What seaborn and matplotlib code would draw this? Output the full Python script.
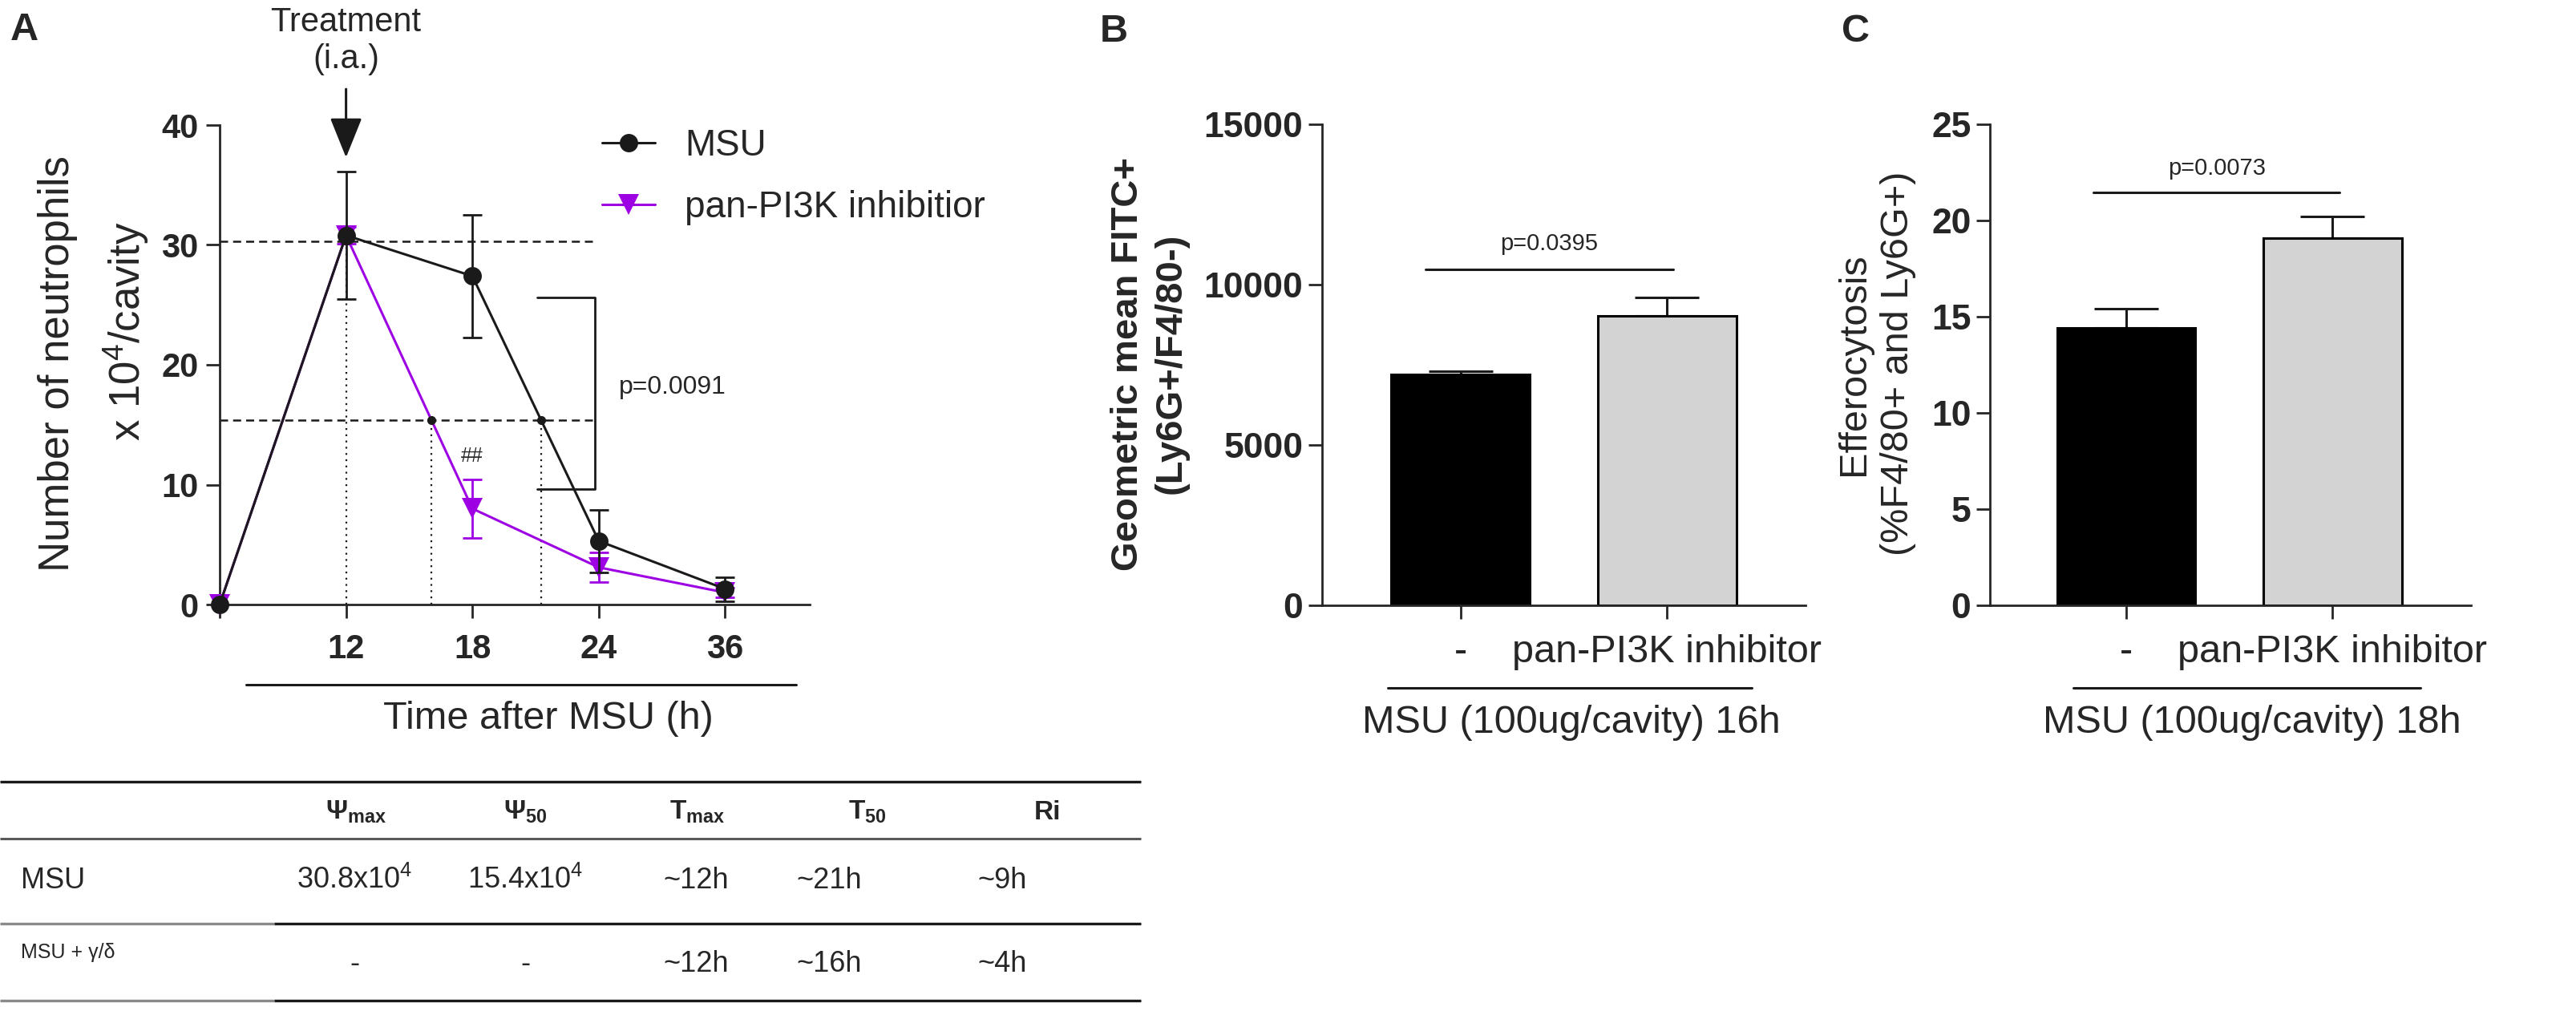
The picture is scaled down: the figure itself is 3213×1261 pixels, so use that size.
import numpy as np
import pandas as pd
import matplotlib
matplotlib.use("Agg")
import matplotlib.pyplot as plt
import seaborn as sns
from matplotlib.lines import Line2D

# ---------------- data ----------------
hours = [0, 12, 18, 24, 36]
msu_mean = [0.0, 30.8, 27.4, 5.3, 1.3]
msu_sem = [0.0, 5.3, 5.1, 2.6, 1.0]
pi3k_mean = [0.0, 30.8, 8.0, 3.1, 1.0]
pi3k_sem = [0.0, 0.7, 2.45, 1.25, 0.4]
series_names = ["MSU", "pan-PI3K inhibitior"]
psi_max_line = 30.3
psi_50 = 15.4
p_A = "p=0.0091"
hash_label = "##"

bar_groups = ["-", "pan-PI3K inhibitor"]
b_values = [7200, 9025]
b_sem = [100, 575]
c_values = [14.4, 19.1]
c_sem = [1.0, 1.1]
p_B = "p=0.0395"
p_C = "p=0.0073"
b_yticks = [0, 5000, 10000, 15000]
c_yticks = [0, 5, 10, 15, 20, 25]
a_yticks = [0, 10, 20, 30, 40]

table_header = ["", r"Ψ$_{\mathbf{max}}$", r"Ψ$_{\mathbf{50}}$", r"T$_{\mathbf{max}}$",
                r"T$_{\mathbf{50}}$", "Ri"]
table_row1 = ["MSU", r"30.8x10$^{4}$", r"15.4x10$^{4}$", "~12h", "~21h", "~9h"]
table_row2 = ["MSU + γ/δ", "-", "-", "~12h", "~16h", "~4h"]

# ---------------- style ----------------
sns.set_theme(style="ticks")
plt.rcParams["font.family"] = ["Liberation Sans", "DejaVu Sans"]
plt.rcParams["mathtext.fontset"] = "custom"
plt.rcParams["mathtext.rm"] = "Liberation Sans"
plt.rcParams["mathtext.it"] = "Liberation Sans:italic"
plt.rcParams["mathtext.bf"] = "Liberation Sans:bold"
plt.rcParams["axes.linewidth"] = 2.0
plt.rcParams["xtick.major.width"] = 2.0
plt.rcParams["ytick.major.width"] = 2.0
plt.rcParams["xtick.major.size"] = 12
plt.rcParams["ytick.major.size"] = 12

W, H = 3213, 1261
fig = plt.figure(figsize=(W / 100, H / 100), dpi=100)
purple = "#9E00E4"
grey = "#D3D3D3"


def px_axes(left, top, right, bottom):
    return fig.add_axes([left / W, 1 - bottom / H, (right - left) / W, (bottom - top) / H])


# ---------------- panel A ----------------
axA = px_axes(274, 156, 1010, 754)
pos = list(range(len(hours)))
df = pd.DataFrame({
    "pos": pos * 2,
    "value": msu_mean + pi3k_mean,
    "group": [series_names[0]] * len(hours) + [series_names[1]] * len(hours),
})


def crossing(mean, level):
    i = int(np.argmax(mean))
    for k in range(i, len(mean) - 1):
        if mean[k] >= level > mean[k + 1]:
            return k + (mean[k] - level) / (mean[k] - mean[k + 1])
    return None


x50_msu = crossing(msu_mean, psi_50)
x50_pi3k = crossing(pi3k_mean, psi_50)
peak_pos = int(np.argmax(msu_mean))

# reference lines
axA.plot([0, 2.96], [psi_max_line, psi_max_line], color="k", lw=1.8, ls=(0, (4, 2.5)), zorder=1)
axA.plot([0, 2.96], [psi_50, psi_50], color="k", lw=1.8, ls=(0, (4, 2.5)), zorder=1)
for xv, top in [(peak_pos, msu_mean[peak_pos]), (x50_pi3k, psi_50), (x50_msu, psi_50)]:
    axA.plot([xv, xv], [0, top], color="k", lw=1.6, ls=(0, (1, 2.5)), zorder=1)

# series
sub_p = df[df["group"] == series_names[1]]
sns.lineplot(data=sub_p, x="pos", y="value", color=purple, marker="v", markersize=19,
             markeredgewidth=0, linewidth=2.2, errorbar=None, ax=axA, clip_on=False, zorder=3)
pm = np.array(pi3k_sem) > 0
axA.errorbar(np.array(pos)[pm], np.array(pi3k_mean)[pm], yerr=np.array(pi3k_sem)[pm], fmt="none",
             ecolor=purple, elinewidth=2.0, capsize=8.5, capthick=2.0, zorder=3, clip_on=False)
sub_m = df[df["group"] == series_names[0]]
sns.lineplot(data=sub_m, x="pos", y="value", color="k", marker="o", markersize=16.5,
             markeredgewidth=0, linewidth=2.2, errorbar=None, ax=axA, clip_on=False, zorder=4)
mm = np.array(msu_sem) > 0
axA.errorbar(np.array(pos)[mm], np.array(msu_mean)[mm], yerr=np.array(msu_sem)[mm], fmt="none",
             ecolor="k", elinewidth=2.0, capsize=8.5, capthick=2.0, zorder=4, clip_on=False)

# T50 dots
axA.plot([x50_pi3k, x50_msu], [psi_50, psi_50], "o", color="k", markersize=7, zorder=5)

# bracket + p value
axA.plot([2.51, 2.97, 2.97, 2.51], [25.6, 25.6, 9.6, 9.6], color="k", lw=2.0, zorder=2)
axA.text(3.16, 18.1, p_A, fontsize=23, ha="left", va="center")
axA.text(2.0, 12.4, hash_label, fontsize=18, ha="center", va="center")

# arrow + treatment text
axA.annotate("", xy=(peak_pos, 37.3), xytext=(peak_pos, 43.0),
             arrowprops=dict(arrowstyle="-|>,head_length=3.1,head_width=1.25", color="k",
                             lw=2.2, mutation_scale=10, shrinkA=0, shrinkB=0),
             annotation_clip=False)
axA.text(peak_pos, 49.9, "Treatment\n(i.a.)", fontsize=30, ha="center", va="top",
         linespacing=1.2, clip_on=False)

axA.set_xlim(0, 4.67)
axA.set_ylim(0, 40)
axA.set_xticks(pos)
axA.set_xticklabels([""] + [str(h) for h in hours[1:]], fontweight="bold", fontsize=30)
axA.set_yticks(a_yticks)
axA.set_yticklabels([str(v) for v in a_yticks], fontweight="bold", fontsize=30)
axA.tick_params(axis="x", pad=14)
axA.tick_params(axis="y", pad=7)
axA.set_xlabel("")
axA.set_ylabel("")
sns.despine(ax=axA)

axA.text(-0.2745, 0.503, "Number of neutrophils", transform=axA.transAxes, rotation=90,
         ha="center", va="center", fontsize=38)
axA.text(-0.158, 0.570, r"x 10$^{4}$/cavity", transform=axA.transAxes, rotation=90,
         ha="center", va="center", fontsize=38)

xtr = axA.get_xaxis_transform()
axA.plot([0.21, 4.56], [-0.167, -0.167], color="k", lw=2.2, transform=xtr, clip_on=False)
axA.text(2.6, -0.239, "Time after MSU (h)", transform=xtr, ha="center", va="center", fontsize=35)

leg_handles = [
    Line2D([], [], color="k", marker="o", markersize=16.5, markeredgewidth=0, lw=2.2),
    Line2D([], [], color=purple, marker="v", markersize=19, markeredgewidth=0, lw=2.2),
]
axA.legend(leg_handles, series_names, loc="upper left", bbox_to_anchor=(751 / W, 1 - 160 / H),
           bbox_transform=fig.transFigure, frameon=False, fontsize=33, handlelength=1.45,
           handletextpad=0.8, labelspacing=0.72, borderpad=0, borderaxespad=0)

fig.text(30 / W, 1 - 38 / H, "A", fontsize=35, fontweight="bold", ha="center", va="center")


# ---------------- panels B and C ----------------
def bar_panel(ax, values, sems, yticks, ylim, ylabel, ylab_x, ylab_bold, pval, p_y, p_text_y,
              p_x, under_x, under_text, under_text_x, xlim):
    sns.barplot(x=bar_groups, y=values, hue=bar_groups, palette=["black", grey], saturation=1,
                edgecolor="black", linewidth=2.2, width=0.67, legend=False, ax=ax, zorder=2)
    ax.errorbar([0, 1], values, yerr=[[0, 0], sems], fmt="none", ecolor="k", elinewidth=2.2,
                capsize=29, capthick=2.2, zorder=1)
    ax.set_xlim(*xlim)
    ax.set_ylim(*ylim)
    ax.set_yticks(yticks)
    ax.set_yticklabels([str(v) for v in yticks], fontweight="bold", fontsize=32)
    ax.set_xticks([0, 1])
    ax.set_xticklabels(bar_groups, fontsize=35)
    ax.tick_params(axis="x", pad=14)
    ax.tick_params(axis="y", pad=5)
    ax.set_xlabel("")
    ax.set_ylabel("")
    sns.despine(ax=ax)
    ax.plot(p_x, [p_y, p_y], color="k", lw=2.2)
    ax.text(np.mean(p_x) + 0.0, p_text_y, pval, fontsize=21, ha="center", va="center")
    tr = ax.get_xaxis_transform()
    ax.plot(under_x, [-0.172, -0.172], color="k", lw=2.2, transform=tr, clip_on=False)
    ax.text(under_text_x, -0.244, under_text, transform=tr, ha="center", va="center", fontsize=35)
    ax.text(ylab_x, 0.502, ylabel, transform=ax.transAxes, rotation=90, ha="center", va="center",
            fontsize=34 if ylab_bold else 35, fontweight="bold" if ylab_bold else "normal",
            linespacing=1.3)


axB = px_axes(1649, 155, 2252, 755)
bar_panel(axB, b_values, b_sem, b_yticks, (0, 15000), "Geometric mean FITC+\n(Ly6G+/F4/80-)",
          -0.357, True, p_B, 10475, 11275, [-0.17, 1.03], [-0.35, 1.41],
          "MSU (100ug/cavity) 16h", 0.537, (-0.67, 1.67))
fig.text(1389 / W, 1 - 40 / H, "B", fontsize=35, fontweight="bold", ha="center", va="center")

axC = px_axes(2482, 155, 3082, 755)
bar_panel(axC, c_values, c_sem, c_yticks, (0, 25), "Efferocytosis\n(%F4/80+ and Ly6G+)",
          -0.237, False, p_C, 21.46, 22.7, [-0.16, 1.035], [-0.257, 1.424],
          "MSU (100ug/cavity) 18h", 0.611, (-0.66, 1.67))
fig.text(2314 / W, 1 - 40 / H, "C", fontsize=35, fontweight="bold", ha="center", va="center")

# ---------------- table ----------------
axT = fig.add_axes([0, 1 - 1258 / H, 1425 / W, (1258 - 965) / H])
axT.set_xlim(0, 1425)
axT.set_ylim(1258, 965)
axT.axis("off")
axT.plot([0, 1423], [975, 975], color="k", lw=2.4, solid_capstyle="butt")
axT.plot([0, 1423], [1046, 1046], color="#5a5a5a", lw=2.2, solid_capstyle="butt")
for yy in (1152, 1248):
    axT.plot([0, 342], [yy, yy], color="#8a8a8a", lw=2.4, solid_capstyle="butt")
    axT.plot([342, 1423], [yy, yy], color="k", lw=2.4, solid_capstyle="butt")

head_x = [None, 444, 655, 870, 1082, 1307]
val_x = [None, 442, 655, 868, 1034, 1250]
for lab, xx in zip(table_header[1:], head_x[1:]):
    axT.text(xx, 1013, lab, fontsize=24, fontweight="bold", ha="center", va="center")
axT.text(26, 1098, table_row1[0], fontsize=26, ha="left", va="center")
for lab, xx in zip(table_row1[1:], val_x[1:]):
    axT.text(xx, 1098, lab, fontsize=26, ha="center", va="center")
axT.text(26, 1188, table_row2[0], fontsize=18, ha="left", va="center")
for lab, xx in zip(table_row2[1:], val_x[1:]):
    axT.text(xx, 1202, lab, fontsize=26, ha="center", va="center")

fig.savefig("out.png", dpi=100, facecolor="white")
